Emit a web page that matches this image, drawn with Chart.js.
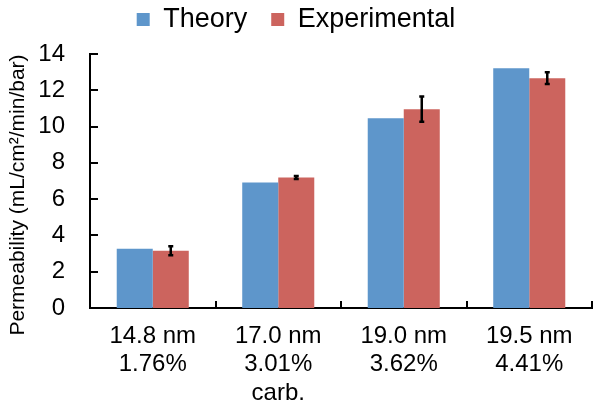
<!DOCTYPE html>
<html>
<head>
<meta charset="utf-8">
<script src="https://cdn.jsdelivr.net/npm/chart.js@4/dist/chart.umd.min.js"></script>
<style>
html,body{margin:0;padding:0;background:#fff;}
#wrap{width:602px;height:409px;}
</style>
</head>
<body>
<div id="wrap"><canvas id="c" width="602" height="409"></canvas></div>
<script>
const categories = [
  ['14.8 nm', '1.76%'],
  ['17.0 nm', '3.01%', 'carb.'],
  ['19.0 nm', '3.62%'],
  ['19.5 nm', '4.41%']
];
const theory = [3.27, 6.92, 10.46, 13.22];
const experimental = [3.16, 7.19, 10.96, 12.67];
const experimentalErr = [0.25, 0.08, 0.7, 0.33];
const seriesNames = ['Theory', 'Experimental'];
const yTitle = 'Permeability (mL/cm\u00B2/min/bar)';

const FONT = "'Liberation Sans', Arial, sans-serif";

const errorBars = {
  id: 'errorBars',
  afterDatasetsDraw(chart) {
    const meta = chart.getDatasetMeta(1);
    const y = chart.scales.y;
    const ctx = chart.ctx;
    ctx.save();
    ctx.strokeStyle = '#000';
    ctx.lineWidth = 2.5;
    meta.data.forEach((bar, i) => {
      const v = experimental[i], e = experimentalErr[i];
      const yt = y.getPixelForValue(v + e), yb = y.getPixelForValue(v - e);
      ctx.beginPath();
      ctx.moveTo(bar.x, yt); ctx.lineTo(bar.x, yb);
      ctx.moveTo(bar.x - 2.5, yt); ctx.lineTo(bar.x + 2.5, yt);
      ctx.moveTo(bar.x - 2.5, yb); ctx.lineTo(bar.x + 2.5, yb);
      ctx.stroke();
    });
    ctx.restore();
  }
};

const innerTicks = {
  id: 'innerTicks',
  afterDraw(chart) {
    const ctx = chart.ctx;
    const xs = chart.scales.x, ys = chart.scales.y;
    const area = chart.chartArea;
    ctx.save();
    ctx.strokeStyle = '#000';
    ctx.lineWidth = 2;
    ctx.beginPath();
    ys.ticks.forEach(t => {
      const p = Math.round(ys.getPixelForValue(t.value));
      ctx.moveTo(area.left, p); ctx.lineTo(area.left + 8, p);
    });
    const n = categories.length;
    for (let i = 1; i <= n; i++) {
      const p = Math.round(xs.left + i * xs.width / n);
      ctx.moveTo(p, area.bottom); ctx.lineTo(p, area.bottom - 7);
    }
    ctx.stroke();
    // y axis title
    ctx.save();
    ctx.fillStyle = '#000';
    ctx.font = "21px " + FONT;
    ctx.textAlign = 'center';
    ctx.textBaseline = 'middle';
    ctx.translate(18, (area.top + area.bottom) / 2 + 14);
    ctx.rotate(-Math.PI / 2);
    ctx.fillText(yTitle, 0, 0);
    ctx.restore();
    ctx.restore();
  }
};

const legendHeight = {
  id: 'legendHeight',
  beforeInit(chart) {
    const lg = chart.legend;
    if (!lg) return;
    const f = lg.fit;
    lg.fit = function () { f.call(this); this.height = 72; };
  }
};

new Chart(document.getElementById('c'), {
  type: 'bar',
  data: {
    labels: categories,
    datasets: [
      { label: seriesNames[0], data: theory, backgroundColor: '#5E96CB' },
      { label: seriesNames[1], data: experimental, backgroundColor: '#CC645E' }
    ]
  },
  options: {
    responsive: false,
    animation: false,
    devicePixelRatio: 1,
    layout: { padding: { top: -18, right: 10, left: 0, bottom: 0 } },
    datasets: { bar: { categoryPercentage: 0.574, barPercentage: 1.0 } },
    plugins: {
      legend: {
        position: 'top',
        labels: {
          font: { family: FONT, size: 27 },
          color: '#000',
          boxWidth: 13, boxHeight: 13,
          padding: 24
        }
      },
      tooltip: { enabled: false }
    },
    scales: {
      x: {
        grid: { display: false, drawTicks: false },
        border: { display: true, color: '#000', width: 2 },
        ticks: { font: { family: FONT, size: 24, lineHeight: 1.19 }, color: '#000', padding: 14, maxRotation: 0, autoSkip: false },
        afterFit(scale) { scale.height = 101; }
      },
      y: {
        min: 0, max: 14,
        grid: { display: false, drawTicks: false },
        border: { display: true, color: '#000', width: 2 },
        ticks: { stepSize: 2, font: { family: FONT, size: 24 }, color: '#000', padding: 25 },
        afterFit(scale) { scale.width = 90; }
      }
    }
  },
  plugins: [errorBars, innerTicks, legendHeight]
});
</script>
</body>
</html>
